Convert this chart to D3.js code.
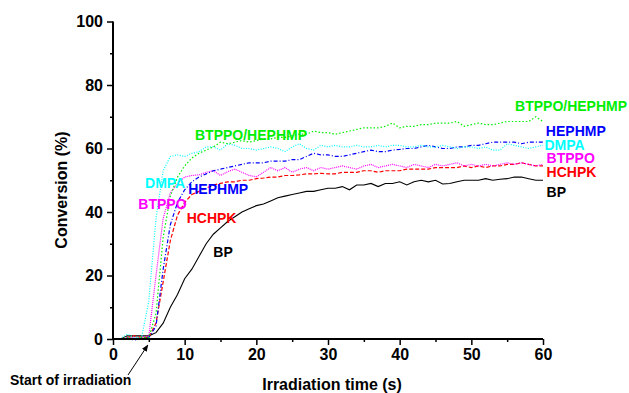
<!DOCTYPE html>
<html><head><meta charset="utf-8">
<script src="https://cdn.jsdelivr.net/npm/d3@7"></script>
<style>body{margin:0;background:#fff}svg{display:block}text{font-family:"Liberation Sans",Arial,sans-serif;font-weight:bold}</style>
</head><body>
<svg id="c" width="629" height="393"></svg>
<script>
const times = d3.range(1, 61);
const BP = [0,1,1,1,1,2,5,10,14,19,22,26,30,33,35,37,38.5,40,41,42,42.5,43.5,44.5,45,45.5,46,46.5,46.5,47,47.5,47.5,48,47,48.5,48.5,49,48,49,49,49.5,48.5,49.5,50,49.5,50,48.8,49,49.5,50,50,50,50.5,50,50.3,50.5,51,51,50.5,50,50];
const HCHPK = [0,0.5,1,0.5,0.5,5,18,31,39,43,45.5,46.5,47.5,48.5,49,49.5,49.5,50,50,50.5,50.7,51,51,51.5,51.5,51.7,52,52,52.2,52,52,52.5,52.5,52.5,53,53,52.5,53,53,53,53.5,53.5,53.5,53.5,54,54,54,54,54.5,54,54.5,54,54.5,54.5,55,55,55.5,55,54.5,54.5];
const BTPPO = [0,0.5,0.3,0.5,1,20,38,46,49,51,51.5,51.7,52.5,53,51.5,52.7,53.5,52.5,51.5,51.1,52.5,54,53,54,52.5,53.5,54,53,54,53.5,54,54.5,54,53.5,54.5,55,54,54.5,55,54.5,54,55,54.5,54,55,54.5,55,55.5,54.5,55,54.5,55,54.5,55,55.5,55,55.5,55,54.5,55];
const HEPHMP = [0,0,-0.3,0.2,0.5,4,22,36,43,47,49.5,51,52,53,53.5,54,54.5,55,55.5,55.5,55.5,56,56,56,56.5,56.5,57.5,58.5,58,58,57.5,57.5,58,58.5,59,59.5,59,59,59.5,59.7,60,60,60.5,61,60.5,60,60,60.5,60.5,61,61,61.5,62,62,62,62,61.5,62,62,62];
const DMPA = [0,1.5,0.5,0.5,12,38,53,57.5,58,57.5,58.5,59,60.5,60.5,59.5,61.5,61,60,60,59.5,60,60.5,60,59,60.5,61.5,60,59.5,61,60.5,61,60.5,60.5,61,60.5,60.5,61,60.5,61,61,60.5,60.5,61,60.5,60.5,61,60.5,60,60.5,60.5,60,60.5,59.5,59.5,61.5,61,60.5,60,60.5,61];
const MIX = [0,0.5,0,0.5,0.5,8,32,45,51,54.5,57,58.5,59.5,60.5,62,61.5,62,62.5,62,62.5,63,63,63.5,63.5,64,64.5,64.5,65.5,65,65,64.5,65,65.5,66,66.5,66.5,66.5,67,68,66.5,67,67,67.5,67.5,68,68,68,68.5,67,67.5,68,67.5,67.5,68,68.5,68.5,68.5,68.5,70,68.5];
const xTicks = [0,10,20,30,40,50,60];
const yTicks = [0,20,40,60,80,100];
const seriesNames = ["BP","HCHPK","BTPPO","HEPHMP","DMPA","BTPPO/HEPHMP"];
const seriesValues = [BP,HCHPK,BTPPO,HEPHMP,DMPA,MIX];
const seriesColors = ["#000000","#ff0000","#ff00ff","#0000ff","#00ffff","#00ee00"];
const seriesDash = [null,"4,2","1,1","4,2,1,2","1,1.5","1.5,2"];
// label anchors in data coords [t, v]
const innerLabels = [[14.0,25.9],[10.28,36.4],[3.53,40.9],[10.5,45.6],[4.47,47.5],[11.44,62.7]];
const rightLabels = [[60.5,44.6],[60.5,50.9],[60.5,55.5],[60.4,64.0],[60.2,59.6],[56.1,71.9]];

const svg = d3.select("#c");
const x = d3.scaleLinear().domain([0,60]).range([113,543]);
const y = d3.scaleLinear().domain([0,100]).range([339,21.5]);

const line = d3.line().x((d,i)=>x(times[i])).y(d=>y(d));
seriesValues.forEach((vals,k)=>{
  svg.append("path").attr("d", line(vals)).attr("fill","none")
    .attr("stroke", seriesColors[k]).attr("stroke-width", k===0?1.1:1.2)
    .attr("stroke-dasharray", seriesDash[k]);
});

// axes
const xAxis = svg.append("g").attr("transform","translate(0,339)")
  .call(d3.axisBottom(x).tickValues(xTicks).tickSize(6).tickPadding(4).tickFormat(d3.format("d")));
svg.append("g").attr("transform","translate(0,339)")
  .call(d3.axisBottom(x).tickValues(d3.range(5,60,10)).tickSize(3).tickFormat(""))
  .call(g=>g.select(".domain").remove());
const yAxis = svg.append("g").attr("transform","translate(113,0)")
  .call(d3.axisLeft(y).tickValues(yTicks).tickSize(6).tickPadding(4));
svg.append("g").attr("transform","translate(113,0)")
  .call(d3.axisLeft(y).tickValues(d3.range(10,100,20)).tickSize(3).tickFormat(""))
  .call(g=>g.select(".domain").remove());
svg.selectAll(".domain").attr("stroke","#000").attr("stroke-width",2);
svg.selectAll(".tick line").attr("stroke","#000").attr("stroke-width",1.5);
svg.selectAll(".tick text").attr("font-size",16).attr("font-family","'Liberation Sans',Arial,sans-serif").attr("font-weight","bold").attr("fill","#000");
xAxis.select(".domain").attr("d","M113,0H543");
yAxis.select(".domain").attr("d","M0,339V21.5");

// labels
seriesNames.forEach((n,k)=>{
  svg.append("text").attr("x",x(innerLabels[k][0])).attr("y",y(innerLabels[k][1]))
    .attr("font-size",14).attr("fill",seriesColors[k]).text(n);
  svg.append("text").attr("x",x(rightLabels[k][0])).attr("y",y(rightLabels[k][1]))
    .attr("font-size",14).attr("fill",seriesColors[k]).text(n);
});

svg.append("text").attr("x",332).attr("y",390).attr("text-anchor","middle").attr("font-size",16).text("Irradiation time (s)");
svg.append("text").attr("transform","translate(67,190) rotate(-90)").attr("text-anchor","middle").attr("font-size",16).text("Conversion (%)");
svg.append("text").attr("x",10).attr("y",385).attr("font-size",14).text("Start of irradiation");

// arrow
svg.append("defs").append("marker").attr("id","ah").attr("viewBox","0 0 10 10").attr("refX",9).attr("refY",5)
  .attr("markerWidth",7).attr("markerHeight",7).attr("orient","auto")
  .append("path").attr("d","M0,1L10,5L0,9z").attr("fill","#000");
svg.append("line").attr("x1",128).attr("y1",375).attr("x2",x(5)-1).attr("y2",y(0)+6)
  .attr("stroke","#000").attr("stroke-width",1).attr("marker-end","url(#ah)");
</script></body></html>
